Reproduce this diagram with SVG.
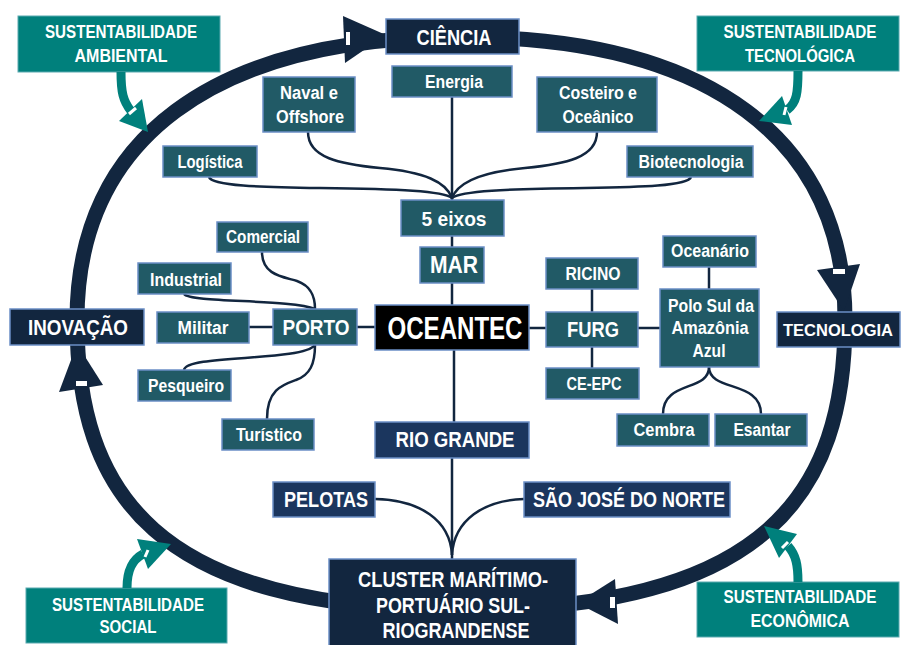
<svg xmlns="http://www.w3.org/2000/svg" width="903" height="645" viewBox="0 0 903 645">
<style>
.tl{fill:#215a66;stroke:#6b8fc6;stroke-width:1.5}
.nv{fill:#12263f;stroke:#6b8fc6;stroke-width:1.5}
.md{fill:#1b365e;stroke:#6b8fc6;stroke-width:1.5}
.bk{fill:#000;stroke:#6b8fc6;stroke-width:1.5}
.su{fill:#00807c;stroke:#5aa9b0;stroke-width:1}
text{font-family:"Liberation Sans",Arial,sans-serif;font-weight:bold;fill:#fff;text-anchor:middle}
.f17{font-size:18px}
.f18{font-size:19px}
.f21{font-size:22px}
.c{fill:none;stroke:#12263f;stroke-width:2.5}
.ring{fill:none;stroke:#12263f;stroke-width:15}
.ah{fill:#12263f}
.ts{fill:none;stroke:#00807c;stroke-width:9}
.ta{fill:#00807c}
.wd{stroke:#fff;stroke-width:3;fill:none}
</style>

<g id="ring">
<path class="ring" d="M461,37 C710,37 845,140 845,320 C845,492 768,610 461,610 C154,610 77,492 77,320 C77,140 212,37 461,37 Z"/>
<polygon class="ah" points="343,16 386,35 345,63"/>
<polygon class="ah" points="817,270 860,264 844,311"/>
<polygon class="ah" points="615,579 577,603 618,624"/>
<polygon class="ah" points="59,392 77,344 103,385"/>
<rect x="346" y="32" width="4" height="13" fill="#fff"/>
<rect x="833" y="269" width="12" height="5" fill="#fff"/>
<rect x="610" y="597" width="5" height="11" fill="#fff"/>
<rect x="76" y="381" width="11" height="5" fill="#fff"/>
</g>

<g id="connectors">
<path class="c" d="M452,97 L452,200"/>
<path class="c" d="M308,132 C308,158 340,164 380,168 C425,172 446,182 452,198"/>
<path class="c" d="M597,132 C597,158 565,164 525,168 C480,172 458,182 452,198"/>
<path class="c" d="M209,177 C212,186 260,187 320,188 C400,189 443,191 452,198"/>
<path class="c" d="M691,177 C688,186 640,187 585,188 C505,189 461,191 452,198"/>
<path class="c" d="M452,236 L452,247"/>
<path class="c" d="M452,283 L452,305"/>
<path class="c" d="M454,350 L454,422"/>
<path class="c" d="M452,458 L452,559"/>
<path class="c" d="M375,499 C420,500 450,520 452,555"/>
<path class="c" d="M524,499 C484,500 454,520 452,555"/>
<path class="c" d="M357,327 L375,327"/>
<path class="c" d="M529,328 L546,328"/>
<path class="c" d="M592,289 L592,312"/>
<path class="c" d="M592,347 L592,368"/>
<path class="c" d="M638,328 L660,328"/>
<path class="c" d="M709,267 L709,289"/>
<path class="c" d="M709,367 C709,392 663,380 663,414"/>
<path class="c" d="M709,367 C709,392 761,380 761,414"/>
<path class="c" d="M249,327 L273,327"/>
<path class="c" d="M262,252 C262,276 285,277 297,281 C311,286 315,296 315,309"/>
<path class="c" d="M184,294 C190,303 292,299 315,309"/>
<path class="c" d="M184,370 C186,354 302,362 315,345"/>
<path class="c" d="M267,419 C267,390 282,385 296,380 C310,375 315,364 315,345"/>
</g>

<g id="sust-ambiental">
<rect class="su" x="18" y="16" width="202" height="56"/>
<text class="f17" x="121" y="38" textLength="152" lengthAdjust="spacingAndGlyphs">SUSTENTABILIDADE</text>
<text class="f17" x="121" y="62" textLength="93" lengthAdjust="spacingAndGlyphs">AMBIENTAL</text>
<path class="ts" d="M121,72 C121,92 123,101 131,111"/>
<polygon class="ta" points="119,121 142,99 148,132"/>
<path class="wd" d="M129,114 L136,108"/>
</g>
<g id="sust-tecnologica">
<rect class="su" x="697" y="16" width="202" height="55"/>
<text class="f17" x="800" y="38" textLength="153" lengthAdjust="spacingAndGlyphs">SUSTENTABILIDADE</text>
<text class="f17" x="800" y="62" textLength="110" lengthAdjust="spacingAndGlyphs">TECNOLÓGICA</text>
<path class="ts" d="M798,71 C798,92 797,103 787,110"/>
<polygon class="ta" points="782,96 792,125 759,121"/>
<path class="wd" d="M784,115 L786,107"/>
</g>
<g id="sust-social">
<rect class="su" x="26" y="588" width="201" height="55"/>
<text class="f17" x="128" y="611" textLength="152" lengthAdjust="spacingAndGlyphs">SUSTENTABILIDADE</text>
<text class="f17" x="128" y="633" textLength="57" lengthAdjust="spacingAndGlyphs">SOCIAL</text>
<path class="ts" d="M127,588 C127,570 132,560 143,554"/>
<polygon class="ta" points="137,539 171,544 148,569"/>
<path class="wd" d="M145,557 L148,550"/>
</g>
<g id="sust-economica">
<rect class="su" x="697" y="582" width="202" height="55"/>
<text class="f17" x="800" y="603" textLength="153" lengthAdjust="spacingAndGlyphs">SUSTENTABILIDADE</text>
<text class="f17" x="800" y="627" textLength="99" lengthAdjust="spacingAndGlyphs">ECONÔMICA</text>
<path class="ts" d="M798,582 C798,565 796,555 788,546"/>
<polygon class="ta" points="797,534 779,558 764,526"/>
<path class="wd" d="M782,548 L788,542"/>
</g>

<g id="ciencia"><rect class="nv" x="386" y="19" width="133" height="35"/><text class="f21" x="454" y="45" textLength="75" lengthAdjust="spacingAndGlyphs">CIÊNCIA</text></g>
<g id="tecnologia"><rect class="nv" x="777" y="312" width="123" height="35"/><text style="font-size:17px" x="838" y="336" textLength="110" lengthAdjust="spacingAndGlyphs">TECNOLOGIA</text></g>
<g id="inovacao"><rect class="nv" x="10" y="309" width="134" height="36"/><text class="f21" x="78" y="335" textLength="100" lengthAdjust="spacingAndGlyphs">INOVAÇÃO</text></g>
<g id="cluster"><rect class="nv" x="329" y="559" width="247" height="92"/>
<text class="f21" x="453" y="587" textLength="190" lengthAdjust="spacingAndGlyphs">CLUSTER MARÍTIMO-</text>
<text class="f21" x="453" y="613" textLength="154" lengthAdjust="spacingAndGlyphs">PORTUÁRIO SUL-</text>
<text class="f21" x="456" y="638" textLength="147" lengthAdjust="spacingAndGlyphs">RIOGRANDENSE</text></g>

<g id="energia"><rect class="tl" x="392" y="66" width="120" height="31"/><text class="f17" x="454" y="88" textLength="58" lengthAdjust="spacingAndGlyphs">Energia</text></g>
<g id="naval"><rect class="tl" x="263" y="77" width="92" height="55"/><text class="f17" x="309" y="99" textLength="58" lengthAdjust="spacingAndGlyphs">Naval e</text><text class="f17" x="310" y="123" textLength="68" lengthAdjust="spacingAndGlyphs">Offshore</text></g>
<g id="costeiro"><rect class="tl" x="537" y="77" width="120" height="55"/><text class="f17" x="598" y="99" textLength="78" lengthAdjust="spacingAndGlyphs">Costeiro e</text><text class="f17" x="598" y="123" textLength="71" lengthAdjust="spacingAndGlyphs">Oceânico</text></g>
<g id="logistica"><rect class="tl" x="163" y="146" width="94" height="31"/><text class="f17" x="210" y="168" textLength="65" lengthAdjust="spacingAndGlyphs">Logística</text></g>
<g id="biotecnologia"><rect class="tl" x="627" y="146" width="126" height="31"/><text class="f17" x="691" y="168" textLength="105" lengthAdjust="spacingAndGlyphs">Biotecnologia</text></g>
<g id="cinco-eixos"><rect class="tl" x="401" y="200" width="103" height="36"/><text style="font-size:21px" x="454" y="226" textLength="65" lengthAdjust="spacingAndGlyphs">5 eixos</text></g>
<g id="mar"><rect class="tl" x="420" y="247" width="64" height="36"/><text style="font-size:23px" x="454" y="273" textLength="48" lengthAdjust="spacingAndGlyphs">MAR</text></g>
<g id="oceantec"><rect class="bk" x="375" y="305" width="154" height="45"/><text style="font-size:31px" x="455" y="339" textLength="135" lengthAdjust="spacingAndGlyphs">OCEANTEC</text></g>
<g id="ricino"><rect class="tl" x="546" y="258" width="92" height="31"/><text class="f18" x="593" y="280" textLength="55" lengthAdjust="spacingAndGlyphs">RICINO</text></g>
<g id="furg"><rect class="tl" x="546" y="312" width="92" height="35"/><text class="f21" x="593" y="337" textLength="52" lengthAdjust="spacingAndGlyphs">FURG</text></g>
<g id="ceepc"><rect class="tl" x="546" y="368" width="93" height="31"/><text class="f18" x="594" y="390" textLength="55" lengthAdjust="spacingAndGlyphs">CE-EPC</text></g>
<g id="oceanario"><rect class="tl" x="663" y="236" width="93" height="31"/><text class="f17" x="710" y="257" textLength="78" lengthAdjust="spacingAndGlyphs">Oceanário</text></g>
<g id="polo"><rect class="tl" x="660" y="289" width="99" height="78"/>
<text class="f18" x="711" y="312" textLength="86" lengthAdjust="spacingAndGlyphs">Polo Sul da</text>
<text class="f18" x="710" y="334" textLength="77" lengthAdjust="spacingAndGlyphs">Amazônia</text>
<text class="f18" x="709" y="357" textLength="33" lengthAdjust="spacingAndGlyphs">Azul</text></g>
<g id="cembra"><rect class="tl" x="617" y="414" width="92" height="32"/><text class="f17" x="664" y="436" textLength="61" lengthAdjust="spacingAndGlyphs">Cembra</text></g>
<g id="esantar"><rect class="tl" x="715" y="414" width="92" height="32"/><text class="f17" x="762" y="436" textLength="57" lengthAdjust="spacingAndGlyphs">Esantar</text></g>
<g id="comercial"><rect class="tl" x="217" y="222" width="91" height="30"/><text class="f17" x="263" y="243" textLength="74" lengthAdjust="spacingAndGlyphs">Comercial</text></g>
<g id="industrial"><rect class="tl" x="138" y="263" width="93" height="31"/><text class="f17" x="186" y="286" textLength="72" lengthAdjust="spacingAndGlyphs">Industrial</text></g>
<g id="militar"><rect class="tl" x="157" y="312" width="92" height="31"/><text class="f17" x="203" y="334" textLength="51" lengthAdjust="spacingAndGlyphs">Militar</text></g>
<g id="porto"><rect class="tl" x="273" y="309" width="84" height="36"/><text class="f21" x="316" y="335" textLength="67" lengthAdjust="spacingAndGlyphs">PORTO</text></g>
<g id="pesqueiro"><rect class="tl" x="138" y="370" width="93" height="31"/><text class="f17" x="186" y="392" textLength="76" lengthAdjust="spacingAndGlyphs">Pesqueiro</text></g>
<g id="turistico"><rect class="tl" x="222" y="419" width="92" height="31"/><text class="f17" x="269" y="441" textLength="66" lengthAdjust="spacingAndGlyphs">Turístico</text></g>
<g id="rio-grande"><rect class="md" x="375" y="422" width="154" height="36"/><text class="f21" x="455" y="447" textLength="119" lengthAdjust="spacingAndGlyphs">RIO GRANDE</text></g>
<g id="pelotas"><rect class="md" x="273" y="482" width="102" height="35"/><text class="f21" x="326" y="507" textLength="84" lengthAdjust="spacingAndGlyphs">PELOTAS</text></g>
<g id="sao-jose"><rect class="md" x="524" y="482" width="206" height="35"/><text class="f21" x="629" y="507" textLength="192" lengthAdjust="spacingAndGlyphs">SÃO JOSÉ DO NORTE</text></g>
</svg>
